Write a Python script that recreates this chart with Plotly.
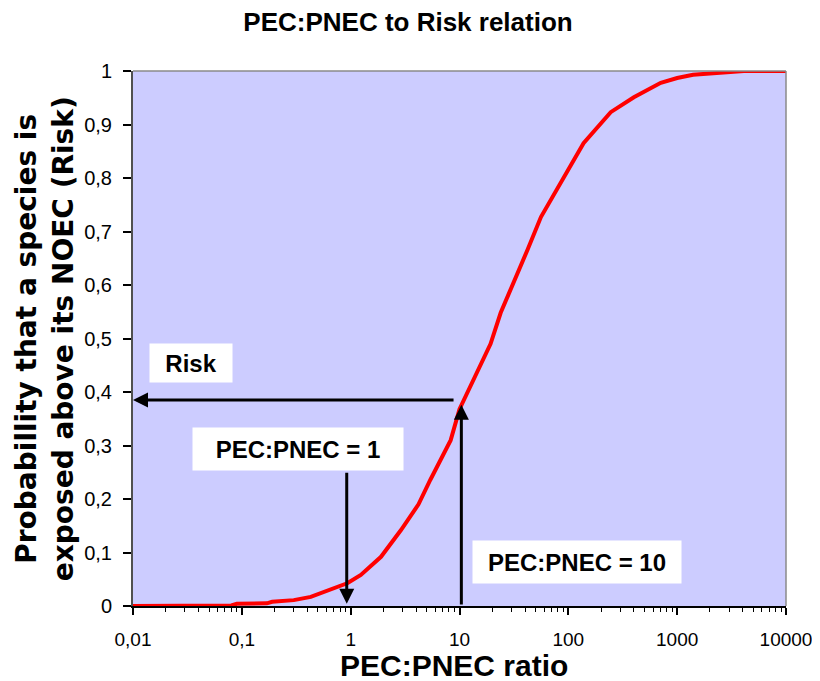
import math
import plotly.graph_objects as go

# ---- data ----
pec_pnec_ratio = [0.01, 0.05, 0.08, 0.09, 0.17, 0.19, 0.3, 0.43, 0.65, 0.94, 1.24, 1.9,
                  2.9, 4.2, 5.4, 8.3, 10, 14.7, 19.3, 23.9, 31.5, 42, 56, 80, 138, 245,
                  400, 707, 1000, 1400, 2500, 4100, 10000]
risk = [0.0, 0.0, 0.001, 0.004, 0.005, 0.008, 0.011, 0.017, 0.03, 0.043, 0.058, 0.092,
        0.142, 0.19, 0.236, 0.31, 0.368, 0.441, 0.49, 0.548, 0.604, 0.665, 0.727, 0.783,
        0.865, 0.923, 0.951, 0.978, 0.987, 0.993, 0.996, 1.0, 1.0]

x_tick_vals = [0.01, 0.1, 1, 10, 100, 1000, 10000]
x_tick_text = ["0,01", "0,1", "1", "10", "100", "1000", "10000"]
y_tick_vals = [0, 0.1, 0.2, 0.3, 0.4, 0.5, 0.6, 0.7, 0.8, 0.9, 1]

risk_level = 0.385          # horizontal "Risk" arrow level
risk_arrow_from = 9.1       # PEC:PNEC where the risk arrow starts
pec1_x = 0.92               # PEC:PNEC = 1 arrow
pec1_top = 0.252
pec10_x = 10.4              # PEC:PNEC = 10 arrow
pec10_tip = 0.376

FONT = "Liberation Sans, Arial, sans-serif"
FONT_WIDE = "DejaVu Sans, Liberation Sans, Arial, sans-serif"
L = math.log10

fig = go.Figure()
fig.add_trace(go.Scatter(x=pec_pnec_ratio, y=risk, mode="lines",
                         line=dict(color="#FF0000", width=4),
                         cliponaxis=False, showlegend=False, hoverinfo="skip"))

annotations = []
# Arrows
annotations.append(dict(x=L(0.01), y=risk_level, ax=L(risk_arrow_from), ay=risk_level,
                        xref="x", yref="y", axref="x", ayref="y", text="", showarrow=True,
                        arrowhead=2, arrowsize=1, arrowwidth=3, arrowcolor="black"))
annotations.append(dict(x=L(pec1_x), y=0.004, ax=L(pec1_x), ay=pec1_top,
                        xref="x", yref="y", axref="x", ayref="y", text="", showarrow=True,
                        arrowhead=2, arrowsize=1, arrowwidth=3, arrowcolor="black"))
annotations.append(dict(x=L(pec10_x), y=pec10_tip, ax=L(pec10_x), ay=0.0,
                        xref="x", yref="y", axref="x", ayref="y", text="", showarrow=True,
                        arrowhead=2, arrowsize=1, arrowwidth=3, arrowcolor="black"))
# Labels in white boxes
box_font = dict(family=FONT, size=24, color="black")
annotations.append(dict(x=L(0.034), y=0.454, xref="x", yref="y", text="<b>Risk</b>",
                        showarrow=False, bgcolor="white", width=82, height=38,
                        borderpad=0, font=box_font))
annotations.append(dict(x=-0.484, y=0.293, xref="x", yref="y", text="<b>PEC:PNEC = 1</b>",
                        showarrow=False, bgcolor="white", width=210, height=42,
                        borderpad=0, font=box_font))
annotations.append(dict(x=2.08, y=0.082, xref="x", yref="y", text="<b>PEC:PNEC = 10</b>",
                        showarrow=False, bgcolor="white", width=208, height=42,
                        borderpad=0, font=box_font))
# Axis titles
annotations.append(dict(x=0.4916, y=-0.112, xref="paper", yref="paper",
                        text="<b>PEC:PNEC ratio</b>", showarrow=False,
                        xanchor="center", yanchor="middle",
                        font=dict(family=FONT, size=30, color="black")))
annotations.append(dict(x=-0.135, y=0.5, xref="paper", yref="paper",
                        text="<b>Probabillity that a species is<br>exposed above its NOEC (Risk)</b>",
                        showarrow=False, textangle=-90, xanchor="center", yanchor="middle",
                        font=dict(family=FONT_WIDE, size=28, color="black")))

shapes = [
    dict(type="line", xref="x domain", yref="y domain", x0=0, x1=1, y0=1, y1=1,
         line=dict(color="#8a8a8a", width=1.5), layer="above"),
    dict(type="line", xref="x domain", yref="y domain", x0=1, x1=1, y0=0, y1=1,
         line=dict(color="#8a8a8a", width=1.5), layer="above"),
]

fig.update_layout(
    width=804, height=673,
    margin=dict(l=125, r=26, t=63, b=75, autoexpand=False),
    paper_bgcolor="white", plot_bgcolor="#CCCCFF",
    separators=",.",
    font=dict(family=FONT, color="black"),
    title=dict(text="<b>PEC:PNEC to Risk relation</b>", x=400 / 804, xref="container",
               y=1 - 14 / 673, yref="container", xanchor="center", yanchor="middle",
               font=dict(family=FONT, size=26, color="black")),
    xaxis=dict(type="log", range=[-2, 4], tickmode="array", tickvals=x_tick_vals,
               ticktext=x_tick_text, ticks="outside", ticklen=7, tickwidth=1.5,
               tickcolor="black", showgrid=False, zeroline=False, showline=True,
               linecolor="black", linewidth=2, layer="below traces",
               automargin=False,
               ticklabelstandoff=8, ticklabeloverflow="allow",
               tickfont=dict(family=FONT, size=19, color="black"),
               minor=dict(ticks="outside", ticklen=4, tickwidth=1, tickcolor="black",
                          dtick="D1", showgrid=False)),
    yaxis=dict(range=[0, 1], tickmode="array", tickvals=y_tick_vals, ticks="outside",
               ticklen=8, tickwidth=1.5, tickcolor="black", showgrid=False,
               zeroline=False, showline=True, linecolor="#505050", linewidth=2,
               layer="below traces", ticklabelstandoff=7, automargin=False,
               tickfont=dict(family=FONT, size=20, color="black")),
    annotations=annotations, shapes=shapes,
)

fig.write_html("out.html", config={"displayModeBar": False})
